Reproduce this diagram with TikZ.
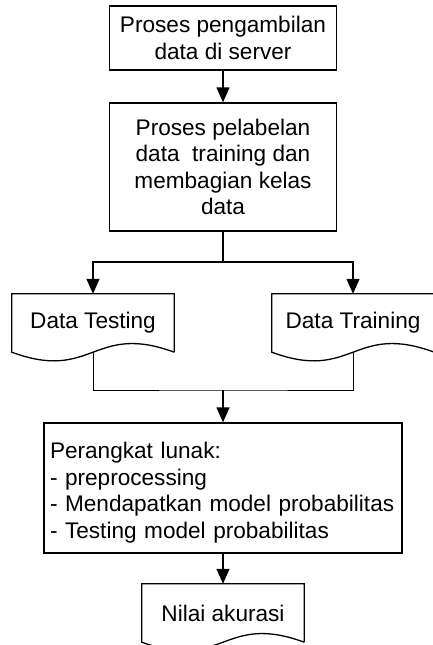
\documentclass[tikz,border=0pt]{standalone}
\usepackage{fontspec}
\setmainfont{Liberation Sans}
\usetikzlibrary{arrows.meta}

\tikzstyle{proses}=[draw, line width=1.3pt, inner sep=0pt, align=center, minimum width=227, font={\fontsize{22.6}{26.6}\selectfont}]
\tikzstyle{dokumen}=[inner sep=0pt, minimum width=162, minimum height=58, font={\fontsize{22.6}{26.6}\selectfont}]
\tikzstyle{garis}=[line width=1.3pt]
\tikzstyle{panah}=[line width=1.3pt, -{Triangle[length=15pt, width=13pt]}]

\begin{document}
\begin{tikzpicture}[x=1pt, y=-1pt]
      \useasboundingbox (0,0) rectangle (432,645);
      \node (ambil) at (223,38) [proses, minimum height=64] {Proses pengambilan\\data di server};
      \node (pelabelan) at (223,167) [proses, minimum height=128] {Proses pelabelan\\data\ \ training dan\\membagian kelas\\data};
      \node (testing) at (93,323) [dokumen] {Data Testing};
      \node (training) at (353,323) [dokumen] {Data Training};
      \node (perangkat) at (223,488) [proses, minimum width=358, minimum height=130, text width=346, text height=26pt, align=left] {Perangkat lunak:\\- preprocessing\\- Mendapatkan model probabilitas\\- Testing model probabilitas};
      \node (akurasi) at (223,613) [dokumen] {Nilai akurasi};

      % bentuk dokumen
      \foreach \d in {testing,training,akurasi}
        \draw[garis] (\d.south east) -- (\d.north east) -- (\d.north west) -- (\d.south west)
          .. controls +(81,30) and +(-81,-30) .. (\d.south east);

      \coordinate (cabang) at (223,262);
      \coordinate (gabung) at (223,390);

      \draw[panah] (ambil) -- (pelabelan);
      \draw[garis] (pelabelan) -- (cabang);
      \draw[panah] (cabang) -| (testing);
      \draw[panah] (cabang) -| (training);
      \draw[line width=1pt] (testing.south) |- (gabung) -| (training.south);
      \draw[panah] (gabung) -- (perangkat);
      \draw[panah] (perangkat) -- (akurasi);
    \end{tikzpicture}
\end{document}
